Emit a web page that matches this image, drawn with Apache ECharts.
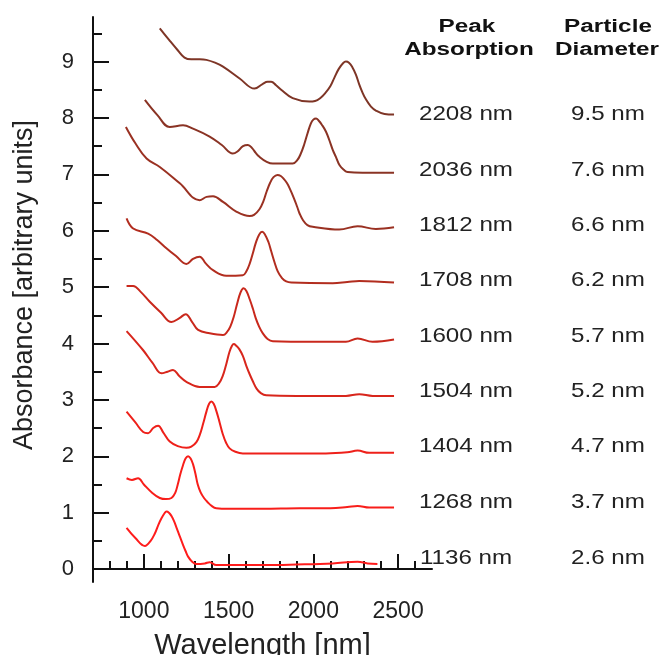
<!DOCTYPE html>
<html>
<head>
<meta charset="utf-8">
<script src="https://cdn.jsdelivr.net/npm/echarts@6/dist/echarts.min.js"></script>
<style>
html,body{margin:0;padding:0;background:#fff;}
#chart{width:663px;height:655px;}
</style>
</head>
<body>
<div id="chart"></div>
<script>
// ---- data (wavelength nm, absorbance with vertical offset) ----
var s1136 = [[898,0.73],[950,0.55],[1006,0.41],[1040,0.5],[1065,0.63],[1085,0.78],[1104,0.9],[1120,0.98],[1133,1.02],[1148,1.0],[1163,0.94],[1178,0.85],[1192,0.74],[1212,0.58],[1231,0.43],[1246,0.32],[1261,0.22],[1285,0.13],[1310,0.09],[1360,0.1],[1388,0.12],[1427,0.07],[1722,0.07],[1900,0.08],[2114,0.10],[2261,0.13],[2320,0.1],[2378,0.09]];
var s1268 = [[898,1.61],[930,1.58],[966,1.61],[1000,1.5],[1050,1.35],[1094,1.26],[1130,1.24],[1163,1.26],[1185,1.35],[1200,1.5],[1215,1.68],[1231,1.84],[1246,1.96],[1261,2.0],[1276,1.96],[1290,1.86],[1305,1.68],[1318,1.5],[1335,1.36],[1355,1.26],[1375,1.19],[1400,1.12],[1427,1.08],[1500,1.07],[1700,1.07],[1918,1.08],[2100,1.08],[2200,1.1],[2261,1.12],[2330,1.09],[2476,1.09]];
var s1404 = [[898,2.79],[950,2.6],[996,2.43],[1025,2.41],[1055,2.5],[1084,2.54],[1115,2.42],[1153,2.26],[1200,2.18],[1251,2.15],[1280,2.17],[1310,2.25],[1330,2.38],[1350,2.58],[1370,2.8],[1385,2.93],[1398,2.97],[1412,2.93],[1428,2.8],[1447,2.6],[1465,2.4],[1485,2.24],[1506,2.14],[1540,2.08],[1584,2.05],[1800,2.05],[2074,2.05],[2200,2.07],[2261,2.1],[2330,2.06],[2476,2.06]];
var s1504 = [[898,4.22],[996,3.88],[1050,3.66],[1104,3.47],[1140,3.5],[1172,3.53],[1210,3.42],[1251,3.32],[1329,3.23],[1418,3.23],[1445,3.3],[1465,3.42],[1485,3.62],[1505,3.85],[1520,3.96],[1531,3.99],[1545,3.96],[1563,3.9],[1584,3.78],[1605,3.6],[1625,3.45],[1643,3.33],[1665,3.2],[1690,3.12],[1722,3.08],[1900,3.07],[2192,3.07],[2271,3.1],[2350,3.07],[2476,3.07]];
var s1600 = [[898,5.02],[937,5.02],[980,4.92],[1035,4.74],[1100,4.55],[1163,4.38],[1210,4.45],[1247,4.52],[1285,4.38],[1320,4.24],[1388,4.18],[1467,4.15],[1490,4.2],[1510,4.3],[1530,4.47],[1550,4.7],[1570,4.9],[1588,4.98],[1605,4.93],[1625,4.78],[1643,4.62],[1660,4.45],[1680,4.3],[1702,4.18],[1730,4.08],[1761,4.04],[2000,4.03],[2192,4.03],[2261,4.09],[2349,4.03],[2476,4.07]];
var s1708 = [[898,6.22],[937,6.04],[1025,5.95],[1080,5.83],[1133,5.69],[1190,5.55],[1251,5.41],[1290,5.5],[1329,5.54],[1365,5.42],[1408,5.30],[1486,5.20],[1584,5.21],[1605,5.28],[1625,5.42],[1643,5.6],[1660,5.78],[1680,5.93],[1698,5.98],[1715,5.93],[1735,5.8],[1751,5.64],[1770,5.45],[1790,5.28],[1815,5.16],[1840,5.1],[1870,5.08],[2114,5.07],[2200,5.09],[2271,5.11],[2476,5.08]];
var s1812 = [[894,7.84],[950,7.55],[1016,7.28],[1094,7.13],[1212,6.84],[1329,6.54],[1370,6.6],[1408,6.61],[1467,6.51],[1545,6.34],[1624,6.26],[1650,6.28],[1682,6.38],[1705,6.52],[1725,6.7],[1745,6.85],[1765,6.95],[1788,6.99],[1808,6.97],[1828,6.91],[1845,6.84],[1859,6.76],[1885,6.58],[1905,6.42],[1918,6.31],[1940,6.18],[1965,6.1],[1996,6.07],[2153,6.02],[2261,6.08],[2369,6.03],[2476,6.06]];
var s2036 = [[1006,8.32],[1080,8.05],[1153,7.84],[1231,7.87],[1290,7.81],[1388,7.67],[1460,7.52],[1525,7.37],[1550,7.4],[1585,7.5],[1614,7.52],[1640,7.46],[1660,7.38],[1682,7.31],[1720,7.23],[1761,7.19],[1878,7.19],[1905,7.25],[1925,7.36],[1945,7.52],[1965,7.72],[1985,7.9],[2000,7.97],[2016,7.99],[2032,7.95],[2050,7.88],[2074,7.76],[2095,7.6],[2115,7.43],[2133,7.31],[2155,7.16],[2180,7.08],[2202,7.04],[2290,7.03],[2476,7.03]];
var s2208 = [[1094,9.59],[1150,9.38],[1200,9.2],[1240,9.07],[1280,9.04],[1330,9.04],[1369,9.03],[1420,8.98],[1467,8.91],[1565,8.70],[1653,8.52],[1700,8.6],[1730,8.64],[1751,8.64],[1780,8.58],[1810,8.5],[1878,8.35],[1976,8.29],[2010,8.3],[2040,8.35],[2070,8.44],[2100,8.56],[2125,8.72],[2150,8.87],[2175,8.97],[2192,9.0],[2210,8.98],[2230,8.9],[2251,8.77],[2270,8.6],[2290,8.45],[2310,8.33],[2340,8.2],[2369,8.13],[2420,8.07],[2476,8.06]];

var peakLabels = ['1136 nm','1268 nm','1404 nm','1504 nm','1600 nm','1708 nm','1812 nm','2036 nm','2208 nm'];
var diameterLabels = ['2.6 nm','3.7 nm','4.7 nm','5.2 nm','5.7 nm','6.2 nm','6.6 nm','7.6 nm','9.5 nm'];
var labelLevels = [0.20, 1.19, 2.17, 3.15, 4.13, 5.12, 6.10, 7.08, 8.07];

var xMajorTicks = [1000,1500,2000,2500];
var xMinorTicks = [800,900,1100,1200,1300,1400,1600,1700,1800,1900,2100,2200,2300,2400,2600];
var yMajorTicks = [0,1,2,3,4,5,6,7,8,9];
var yMinorTicks = [0.5,1.5,2.5,3.5,4.5,5.5,6.5,7.5,8.5,9.5];

var allSpectra = [s1136,s1268,s1404,s1504,s1600,s1708,s1812,s2036,s2208];
var colors = ['#ff1c1c','#f81e1a','#ee201a','#d8261c','#c9281c','#b22d1f','#9a3122','#8a3324','#7e3526'];

var chart = echarts.init(document.getElementById('chart'));
var FONT = 'Liberation Sans, Arial, Helvetica, sans-serif';
var axisCol = '#111';

var series = allSpectra.map(function(d, i){
  return {
    type:'line', data:d, showSymbol:false, smooth:0.4,
    lineStyle:{color:colors[i], width:2}, silent:true, animation:false,
    xAxisIndex:0, yAxisIndex:0
  };
});

chart.setOption({
  backgroundColor:'#fff',
  animation:false,
  grid:{left:93, right:231, top:17, bottom:73, containLabel:false, outerBoundsMode:'none'},
  xAxis:[{
    type:'value', min:700, max:2700,
    axisLine:{show:true, lineStyle:{color:axisCol, width:2}},
    axisTick:{show:true, inside:true, length:15, customValues:xMajorTicks, lineStyle:{color:axisCol, width:2}},
    axisLabel:{show:true, customValues:xMajorTicks, fontSize:23, color:'#222', fontFamily:FONT, margin:18,
      formatter:function(v){ return String(v); }},
    splitLine:{show:false},
    name:'Wavelength [nm]', nameLocation:'middle', nameGap:49,
    nameTextStyle:{fontSize:29, color:'#222', fontFamily:FONT}
  },{
    type:'value', min:700, max:2700, position:'bottom',
    axisLine:{show:false},
    axisTick:{show:true, inside:true, length:8, customValues:xMinorTicks, lineStyle:{color:axisCol, width:2}},
    axisLabel:{show:false}, splitLine:{show:false}
  }],
  yAxis:[{
    type:'value', min:-0.23, max:9.79,
    axisLine:{show:true, lineStyle:{color:axisCol, width:2}},
    axisTick:{show:true, inside:true, length:16, customValues:yMajorTicks, lineStyle:{color:axisCol, width:2}},
    axisLabel:{show:true, customValues:yMajorTicks, fontSize:22, color:'#222', fontFamily:FONT, margin:19},
    splitLine:{show:false}
  },{
    type:'value', min:-0.23, max:9.79, position:'left',
    axisLine:{show:false},
    axisTick:{show:true, inside:true, length:9, customValues:yMinorTicks, lineStyle:{color:axisCol, width:2}},
    axisLabel:{show:false}, splitLine:{show:false}
  }],
  series:series
});

// y-axis title and right-hand annotation columns
var g = [];
g.push({type:'text', x:25, y:285, rotation:Math.PI/2, silent:true,
  style:{text:'Absorbance [arbitrary units]', font:'27px ' + FONT, fill:'#222', align:'center', verticalAlign:'middle'}});
function hdr(txt, x, y){
  g.push({type:'text', x:x, y:y, scaleX:1.35, silent:true,
    style:{text:txt, font:'bold 18px ' + FONT, fill:'#111', align:'center', verticalAlign:'middle'}});
}
hdr('Peak', 467, 27); hdr('Absorption', 469, 50);
hdr('Particle', 608, 27); hdr('Diameter', 607, 50);
for (var i = 0; i < peakLabels.length; i++) {
  var py = chart.convertToPixel({yAxisIndex:0}, labelLevels[i]);
  g.push({type:'text', x:466, y:py, scaleX:1.15, silent:true,
    style:{text:peakLabels[i], font:'21px ' + FONT, fill:'#222', align:'center', verticalAlign:'middle'}});
  g.push({type:'text', x:608, y:py, scaleX:1.15, silent:true,
    style:{text:diameterLabels[i], font:'21px ' + FONT, fill:'#222', align:'center', verticalAlign:'middle'}});
}
chart.setOption({graphic:g});
</script>
</body>
</html>
